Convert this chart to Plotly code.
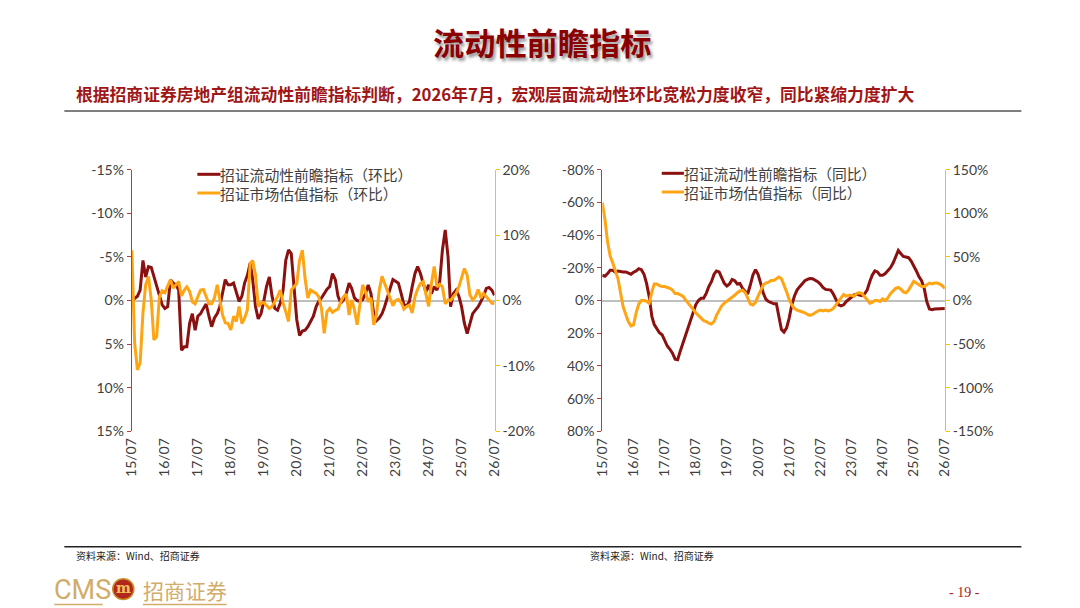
import pandas as pd
import plotly.graph_objects as go

# monthly dates 2015/07 .. 2026/07
dates = pd.date_range("2015-07-01", periods=133, freq="MS")

# left panel: month-on-month (%)
liq_mom = [0.0, -0.3, -0.5, -1.2, -4.6, -2.7, -3.9, -3.8, -2.7, -1.6, -0.5, 0.5,
           0.9, 0.7, -2.4, -2.0, -1.8, -1.2, 5.7, 5.3, 5.3, 2.6, 1.5, 3.4,
           1.8, 1.5, 0.9, 0.4, 1.8, 3.0, 2.0, 1.5, 0.7, -0.8, -2.4, -1.8,
           -1.8, -2.0, -0.8, 0.1, -0.5, -2.0, -2.9, -4.3, -2.4, 0.7, 2.1, 1.5,
           0.1, -1.6, -2.7, -0.5, 0.9, 1.1, 0.3, -1.2, -4.6, -5.8, -5.4, -1.2,
           2.2, 4.0, 3.5, 3.4, 3.0, 2.4, 1.8, 0.7, 0.1, -0.3, -0.8, -1.3,
           -1.6, -3.1, -2.4, -0.5, 0.3, -0.1, -0.8, -2.0, -1.4, -0.3, 0.0, 0.1,
           -0.1, -0.8, -1.8, -0.8, 1.5, 2.3, 2.0, 1.5, 0.7, -0.3, -1.2, -2.4,
           -2.2, -2.0, -0.8, 0.5, 0.6, 0.1, -1.6, -3.1, -3.9, -3.1, -2.0, -1.0,
           -1.8, -0.8, -1.6, -1.2, -2.2, -5.8, -8.1, -5.0, 0.7, -0.8, -1.2, -0.5,
           0.7, 2.6, 3.8, 2.6, 1.5, 1.1, 0.7, 0.1, -0.5, -1.4, -1.5, -1.2, -0.6]
val_mom = [7.7, -6.5, -10.6, -9.5, -1.9, 2.4, 3.7, 0.1, -6.0, -5.5, 0.6, 1.5,
           1.2, 2.2, 3.2, 1.9, 2.4, 2.9, 0.7, 1.6, 2.1, 1.4, -0.2, -0.5,
           0.6, 1.6, 1.7, 0.6, -0.5, -0.5, 0.4, 2.4, 0.1, -2.2, -3.4, -3.5,
           -4.5, -2.4, -3.2, -0.9, -3.5, -2.7, -1.4, 5.7, 6.1, 3.9, -0.9, -0.4,
           -0.3, -0.7, -1.2, -0.9, -0.2, 0.6, 1.6, -0.4, -1.7, -3.2, 1.6, 2.1,
           2.6, 6.2, 7.7, 3.4, 0.4, 1.6, 1.4, 1.1, 0.6, -1.2, -5.0, -1.7,
           -1.2, -1.8, -1.5, -1.3, -0.2, 0.6, 1.0, -2.2, 0.1, -1.4, -3.7, -0.9,
           2.4, 1.4, -0.2, 0.4, -3.7, -2.2, 1.6, 3.7, 2.6, 1.4, 0.5, -0.8,
           0.0, 0.2, -0.3, -1.3, -0.9, -0.7, -1.9, 0.6, 1.7, 2.6, 2.9, 1.1,
           -0.9, 2.6, 5.2, 2.1, 2.5, 2.1, -0.5, 0.1, 0.0, 0.6, 1.1, 2.1,
           3.4, 4.9, 3.9, 0.9, 0.1, 0.6, 1.7, 0.4, 1.1, 0.6, 0.2, -0.4, -0.5]

# right panel: year-on-year (%)
liq_yoy = [-15.5, -14.9, -16.5, -18.5, -18.5, -17.3, -18.1, -17.7, -17.5, -17.5, -16.9, -16.1,
           -17.3, -18.1, -19.5, -18.9, -16.1, -10.5, -2.4, 9.7, 14.7, 17.3, 19.7, 20.9,
           24.7, 27.8, 29.8, 32.2, 35.8, 36.2, 30.8, 25.8, 21.7, 17.7, 12.7, 7.6,
           2.6, 0.0, -1.4, -1.4, -4.4, -8.5, -11.5, -16.1, -18.1, -17.5, -13.5, -10.5,
           -8.9, -10.1, -12.9, -12.1, -10.1, -10.5, -7.4, -5.4, -4.0, -9.5, -15.5, -18.9,
           -16.1, -10.5, -4.4, -0.8, 0.6, 1.2, 2.0, 2.0, 10.7, 17.7, 19.3, 16.7,
           10.7, 2.6, -2.8, -6.4, -8.5, -10.5, -12.1, -12.9, -13.5, -13.3, -12.5, -11.5,
           -10.1, -8.0, -6.8, -6.8, -6.4, -4.0, -0.4, 2.6, 3.2, 2.6, 0.6, -0.8,
           -2.4, -3.4, -3.8, -3.2, -3.0, -4.0, -6.4, -11.5, -15.5, -18.1, -17.5, -15.5,
           -15.5, -16.5, -18.5, -20.1, -22.9, -27.0, -30.6, -28.6, -27.0, -26.6, -26.2, -24.1,
           -21.5, -18.1, -14.5, -12.1, -7.4, 0.6, 5.2, 5.6, 5.2, 5.0, 5.0, 4.8, 4.8]
val_yoy = [112, 93, 67, 51, 43, 34, 25, 8, -7, -16, -24, -29,
           -28, -14, -4, 0, 0, -1, -3, 10, 19, 19, 17, 16,
           16, 15, 14, 12, 8, 8, 6, 5, 1, -3, -7, -10,
           -14, -17, -20, -23, -24, -26, -27, -24, -17, -11, -6, -3,
           -1, 1, 4, 6, 9, 11, 12, 9, 3, -4, -5, -2,
           5, 12, 18, 20, 21, 23, 23, 25, 27, 25, 18, 10,
           1, -5, -9, -11, -12, -13, -14, -16, -17, -16, -14, -12,
           -11, -12, -11, -12, -11, -9, -5, -1, 4, 7, 5, 6,
           6, 5, 8, 9, 8, 5, 1, -3, -2, 0, 0, -1,
           2, 0, 3, 8, 11, 14, 15, 13, 10, 9, 12, 18,
           22, 20, 18, 16, 16, 18, 20, 19, 20, 20, 19, 17, 14]

names_mom = ["招证流动性前瞻指标（环比）", "招证市场估值指标（环比）"]
names_yoy = ["招证流动性前瞻指标（同比）", "招证市场估值指标（同比）"]

# tick labels
mom_left_ticks = [-15, -10, -5, 0, 5, 10, 15]
mom_left_text = ["-15%", "-10%", "-5%", "0%", "5%", "10%", "15%"]
mom_right_ticks = [-20, -10, 0, 10, 20]
mom_right_text = ["-20%", "-10%", "0%", "10%", "20%"]
yoy_left_ticks = [-80, -60, -40, -20, 0, 20, 40, 60, 80]
yoy_left_text = ["-80%", "-60%", "-40%", "-20%", "0%", "20%", "40%", "60%", "80%"]
yoy_right_ticks = [-150, -100, -50, 0, 50, 100, 150]
yoy_right_text = ["-150%", "-100%", "-50%", "0%", "50%", "100%", "150%"]

RED = "#8B1010"
ORANGE = "#FFA514"
GREY_TXT = "#404040"
CJK = "Noto Sans CJK SC"
TICKF = dict(family="Lato, Noto Sans CJK SC", size=14, color=GREY_TXT)

W, H = 1080, 608
# the photographed page comes out slightly shrunk and shifted; positions below are
# given in picture pixels and mapped back to figure space
S, OX, OY = 0.977, 18, 15.5


def fx(p):
    return (p - OX) / S / W


def fy(p):
    return 1 - (p - OY) / S / H


fig = go.Figure()
fig.add_trace(go.Scatter(x=dates, y=liq_mom, name=names_mom[0], mode="lines",
                         line=dict(color=RED, width=3), xaxis="x", yaxis="y"))
fig.add_trace(go.Scatter(x=dates, y=val_mom, name=names_mom[1], mode="lines",
                         line=dict(color=ORANGE, width=3), xaxis="x", yaxis="y2"))
fig.add_trace(go.Scatter(x=dates, y=liq_yoy, name=names_yoy[0], mode="lines",
                         line=dict(color=RED, width=3), xaxis="x2", yaxis="y3"))
fig.add_trace(go.Scatter(x=dates, y=val_yoy, name=names_yoy[1], mode="lines",
                         line=dict(color=ORANGE, width=3), xaxis="x2", yaxis="y4"))

ydom = [fy(432), fy(169)]
xcommon = dict(type="date", range=["2015-07-01", "2026-07-01"], tick0="2015-07-01", dtick="M12",
               tickformat="%y/%m", tickangle=-90, showgrid=False, zeroline=False, showline=False,
               ticks="", tickfont=TICKF, ticklabelstandoff=3)
ycommon = dict(showgrid=False, ticks="outside", ticklen=4, showline=True, linewidth=1.2,
               tickfont=TICKF, tickmode="array")

fig.update_layout(
    width=W, height=H, margin=dict(l=0, r=0, t=0, b=0), showlegend=False,
    paper_bgcolor="white", plot_bgcolor="white",
    font=dict(family=CJK, color=GREY_TXT),
    xaxis=dict(domain=[fx(132), fx(492)], anchor="y", **xcommon),
    xaxis2=dict(domain=[fx(599), fx(939)], anchor="y3", **xcommon),
    yaxis=dict(domain=ydom, range=[15, -15], tickvals=mom_left_ticks, ticktext=mom_left_text,
               linecolor="#B04040", tickcolor="#B04040",
               zeroline=True, zerolinecolor="#BFBFBF", zerolinewidth=1.5, **ycommon),
    yaxis2=dict(overlaying="y", side="right", anchor="x", range=[-20, 20],
                tickvals=mom_right_ticks, ticktext=mom_right_text,
                linecolor="#FFC000", tickcolor="#FFC000", zeroline=False, **ycommon),
    yaxis3=dict(domain=ydom, anchor="x2", range=[80, -80], tickvals=yoy_left_ticks, ticktext=yoy_left_text,
                linecolor="#B04040", tickcolor="#B04040",
                zeroline=True, zerolinecolor="#BFBFBF", zerolinewidth=1.5, **ycommon),
    yaxis4=dict(overlaying="y3", side="right", anchor="x2", range=[-150, 150],
                tickvals=yoy_right_ticks, ticktext=yoy_right_text,
                linecolor="#FFC000", tickcolor="#FFC000", zeroline=False, **ycommon),
)

# hand-placed legends: one two-line text plus short line samples
LEG_FS = 14.8
gap = 1.3 * LEG_FS * S  # picture px between the two rows
legends = [((197, 220, 218), 183, names_mom), ((658, 680, 678), 182, names_yoy)]
for (l0, l1, tx), mid, names in legends:
    for ry, col in ((mid - gap / 2, RED), (mid + gap / 2, ORANGE)):
        fig.add_shape(type="line", x0=fx(l0), x1=fx(l1), y0=fy(ry), y1=fy(ry), xref="paper", yref="paper",
                      line=dict(color=col, width=3))
    fig.add_annotation(text="<br>".join(names), x=fx(tx), y=fy(mid), xref="paper", yref="paper",
                       xanchor="left", yanchor="middle", align="left", showarrow=False,
                       font=dict(family=CJK, size=LEG_FS, color=GREY_TXT))

# header
fig.add_annotation(text="<b>流动性前瞻指标</b>", x=fx(539), y=fy(40), xref="paper", yref="paper",
                   xanchor="center", yanchor="middle", showarrow=False,
                   font=dict(family=CJK, size=31.2, color="#8B0000", shadow="2px 3px 3px #9a9a9a"))
fig.add_annotation(text="<b>根据招商证券房地产组流动性前瞻指标判断，2026年7月，宏观层面流动性环比宽松力度收窄，同比紧缩力度扩大</b>",
                   x=fx(75), y=fy(93), xref="paper", yref="paper", xanchor="left", yanchor="middle",
                   showarrow=False, font=dict(family=CJK, size=16.8, color="#A01515"))
fig.add_shape(type="line", x0=fx(65), x1=fx(1015), y0=fy(110), y1=fy(110),
              xref="paper", yref="paper", line=dict(color="#7f7f7f", width=2))

# footer
fig.add_shape(type="line", x0=fx(65), x1=fx(1015), y0=fy(548), y1=fy(548),
              xref="paper", yref="paper", line=dict(color="#222222", width=1.5))
for xs in (75, 585):
    fig.add_annotation(text="资料来源：Wind、招商证券", x=fx(xs), y=fy(557), xref="paper",
                       yref="paper", xanchor="left", yanchor="middle", showarrow=False,
                       font=dict(family=CJK, size=10, color="#222222"))
fig.add_annotation(text="- 19 -", x=fx(959), y=fy(594), xref="paper", yref="paper",
                   xanchor="center", yanchor="middle", showarrow=False,
                   font=dict(family="Liberation Serif", size=14, color="#B02020"))

# logo
GOLD = "#D2AC6A"
fig.add_annotation(text="CMS", x=fx(54), y=fy(591), xref="paper", yref="paper", xanchor="left",
                   yanchor="middle", showarrow=False, borderpad=0,
                   font=dict(family="Liberation Sans Narrow, Roboto", size=27, color=GOLD))
fig.add_shape(type="circle", x0=fx(113), x1=fx(134), y0=fy(601), y1=fy(580),
              xref="paper", yref="paper", fillcolor="#B3261E", line=dict(color="#C8902A", width=1.5))
fig.add_annotation(text="<b>m</b>", x=fx(123.5), y=fy(589), xref="paper", yref="paper",
                   xanchor="center", yanchor="middle", showarrow=False, borderpad=0,
                   font=dict(family="DejaVu Serif", size=14, color="#F2C25A"))
fig.add_annotation(text="招商证券", x=fx(142), y=fy(591), xref="paper", yref="paper", xanchor="left",
                   yanchor="middle", showarrow=False, borderpad=0,
                   font=dict(family=CJK, size=21, color=GOLD))
for a, b in ((55, 103), (143, 226)):
    fig.add_shape(type="line", x0=fx(a), x1=fx(b), y0=fy(606), y1=fy(606),
                  xref="paper", yref="paper", line=dict(color=GOLD, width=1.5))

fig.write_html("out.html")
